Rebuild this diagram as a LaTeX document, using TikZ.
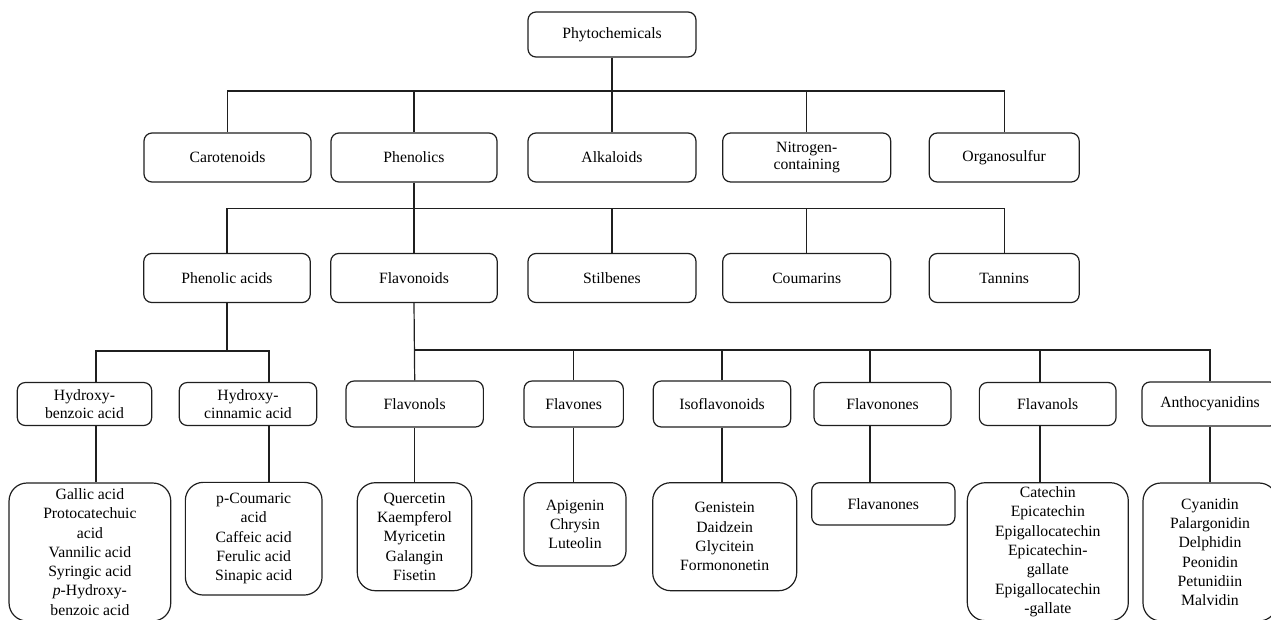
\documentclass[tikz,border=0pt]{standalone}
\usepackage{fontspec}
\setmainfont{Liberation Serif}
\begin{document}
\begin{tikzpicture}[x=1pt,y=-1pt,
  line width=1.2pt, draw=black!88,
  hdr/.style={draw=black!88, line width=1.2pt, rounded corners=8pt, align=center, inner sep=0pt,
    font=\fontsize{15.7}{17.5}\selectfont},
  lst/.style={draw=black!88, line width=1.2pt, rounded corners=18pt, align=center, inner sep=0pt,
    font=\fontsize{15.7}{19.3}\selectfont},
  conn/.style={draw=black!88, line width=1.2pt}]
\useasboundingbox (0,0) rectangle (1271,620);
\clip (0,0) rectangle (1271,620);
% level 0
\node[hdr, minimum width=168, minimum height=45] (phyto) at (612,34.5) {Phytochemicals};
% level 1
\node[hdr, minimum width=167, minimum height=49] (caro) at (227.5,157.5) {Carotenoids};
\node[hdr, minimum width=166, minimum height=49] (phen) at (414,157.5) {Phenolics};
\node[hdr, minimum width=168, minimum height=49] (alka) at (612,157.5) {Alkaloids};
\node[hdr, minimum width=168, minimum height=49] (nitro) at (806.7,157.5) {Nitrogen-\\containing};
\node[hdr, minimum width=150, minimum height=49] (orga) at (1004.2,157.5) {Organosulfur};
% level 2
\node[hdr, minimum width=166.5, minimum height=49] (phac) at (227,278) {Phenolic acids};
\node[hdr, minimum width=166.5, minimum height=49] (flavd) at (414,278) {Flavonoids};
\node[hdr, minimum width=168, minimum height=49] (stil) at (612,278) {Stilbenes};
\node[hdr, minimum width=168, minimum height=49] (coum) at (806.7,278) {Coumarins};
\node[hdr, minimum width=150, minimum height=49] (tann) at (1004.2,278) {Tannins};
% level 3
\node[hdr, minimum width=134.4, minimum height=43] (hbz) at (84.5,404) {Hydroxy-\\benzoic acid};
\node[hdr, minimum width=137.4, minimum height=43] (hcin) at (248,404) {Hydroxy-\\cinnamic acid};
\node[hdr, minimum width=137.3, minimum height=46] (flvl) at (414.7,404) {Flavonols};
\node[hdr, minimum width=99.3, minimum height=46] (flvn) at (573.7,404) {Flavones};
\node[hdr, minimum width=137.4, minimum height=46] (isof) at (722,404) {Isoflavonoids};
\node[hdr, minimum width=137, minimum height=43] (flvo) at (882.5,404) {Flavonones};
\node[hdr, minimum width=136.7, minimum height=43] (flva) at (1047.7,404) {Flavanols};
\node[hdr, minimum width=136, minimum height=44] (anth) at (1210,404) {Anthocyanidins};
% level 4
\node[lst, minimum width=161.7, minimum height=138] (gal) at (89.9,552) {Gallic acid\\Protocatechuic\\acid\\Vannilic acid\\Syringic acid\\\textit{p}-Hydroxy-\\benzoic acid};
\node[lst, minimum width=136.7, minimum height=112.7] (cou) at (253.7,538.7) {p-Coumaric\\acid\\Caffeic acid\\Ferulic acid\\Sinapic acid};
\node[lst, minimum width=114.4, minimum height=108] (que) at (414.5,536.7) {Quercetin\\Kaempferol\\Myricetin\\Galangin\\Fisetin};
\node[lst, rounded corners=15pt, minimum width=102, minimum height=83.3] (api) at (575,524.3) {Apigenin\\Chrysin\\Luteolin};
\node[lst, minimum width=144, minimum height=108] (gen) at (724.7,536.7) {Genistein\\Daidzein\\Glycitein\\Formononetin};
\node[hdr, minimum width=143.3, minimum height=42.3] (flvan) at (883.3,503.8) {Flavanones};
\node[lst, minimum width=161, minimum height=138] (cat) at (1047.8,551.7) {Catechin\\Epicatechin\\Epigallocatechin\\Epicatechin-\\gallate\\Epigallocatechin\\-gallate};
\node[lst, minimum width=134, minimum height=138] (cya) at (1210,552) {Cyanidin\\Palargonidin\\Delphidin\\Peonidin\\Petunidiin\\Malvidin};
% junctions
\coordinate (j1) at (612,91);
\coordinate (j2) at (414,208.3);
\coordinate (j3a) at (227,351);
\coordinate (j3b) at (414,350);
% level 0 -> 1
\draw[conn] (phyto.south) -- (j1);
\draw[conn] (caro.north) |- (j1);
\draw[conn] (phen.north) |- (j1);
\draw[conn] (alka.north) -- (j1);
\draw[conn] (nitro.north) |- (j1);
\draw[conn] (orga.north) |- (j1);
% level 1 -> 2
\draw[conn] (phen.south) -- (j2);
\draw[conn] (phac.north) |- (j2);
\draw[conn] (flavd.north) -- (j2);
\draw[conn] (stil.north) |- (j2);
\draw[conn] (coum.north) |- (j2);
\draw[conn] (tann.north) |- (j2);
% phenolic acids -> children
\draw[conn] (phac.south) -- (j3a);
\draw[conn] ([xshift=11.5pt]hbz.north) |- (j3a);
\draw[conn] ([xshift=21pt]hcin.north) |- (j3a);
% flavonoids -> children
\draw[conn] (flavd.south) -- (flvl.north);
\draw[conn] (flvn.north) |- (j3b);
\draw[conn] (isof.north) |- (j3b);
\draw[conn] ([xshift=-12.5pt]flvo.north) |- (j3b);
\draw[conn] ([xshift=-7.7pt]flva.north) |- (j3b);
\draw[conn] (anth.north) |- (j3b);
% level 3 -> 4
\draw[conn] ([xshift=11.5pt]hbz.south) -- ([xshift=11.5pt]hbz.south |- gal.north);
\draw[conn] ([xshift=21pt]hcin.south) -- ([xshift=21pt]hcin.south |- cou.north);
\draw[conn] (flvl.south) -- (flvl.south |- que.north);
\draw[conn] (flvn.south) -- (flvn.south |- api.north);
\draw[conn] (isof.south) -- (isof.south |- gen.north);
\draw[conn] ([xshift=-12.5pt]flvo.south) -- ([xshift=-12.5pt]flvo.south |- flvan.north);
\draw[conn] ([xshift=-7.7pt]flva.south) -- ([xshift=-7.7pt]flva.south |- cat.north);
\draw[conn] (anth.south) -- (anth.south |- cya.north);
\end{tikzpicture}
\end{document}
